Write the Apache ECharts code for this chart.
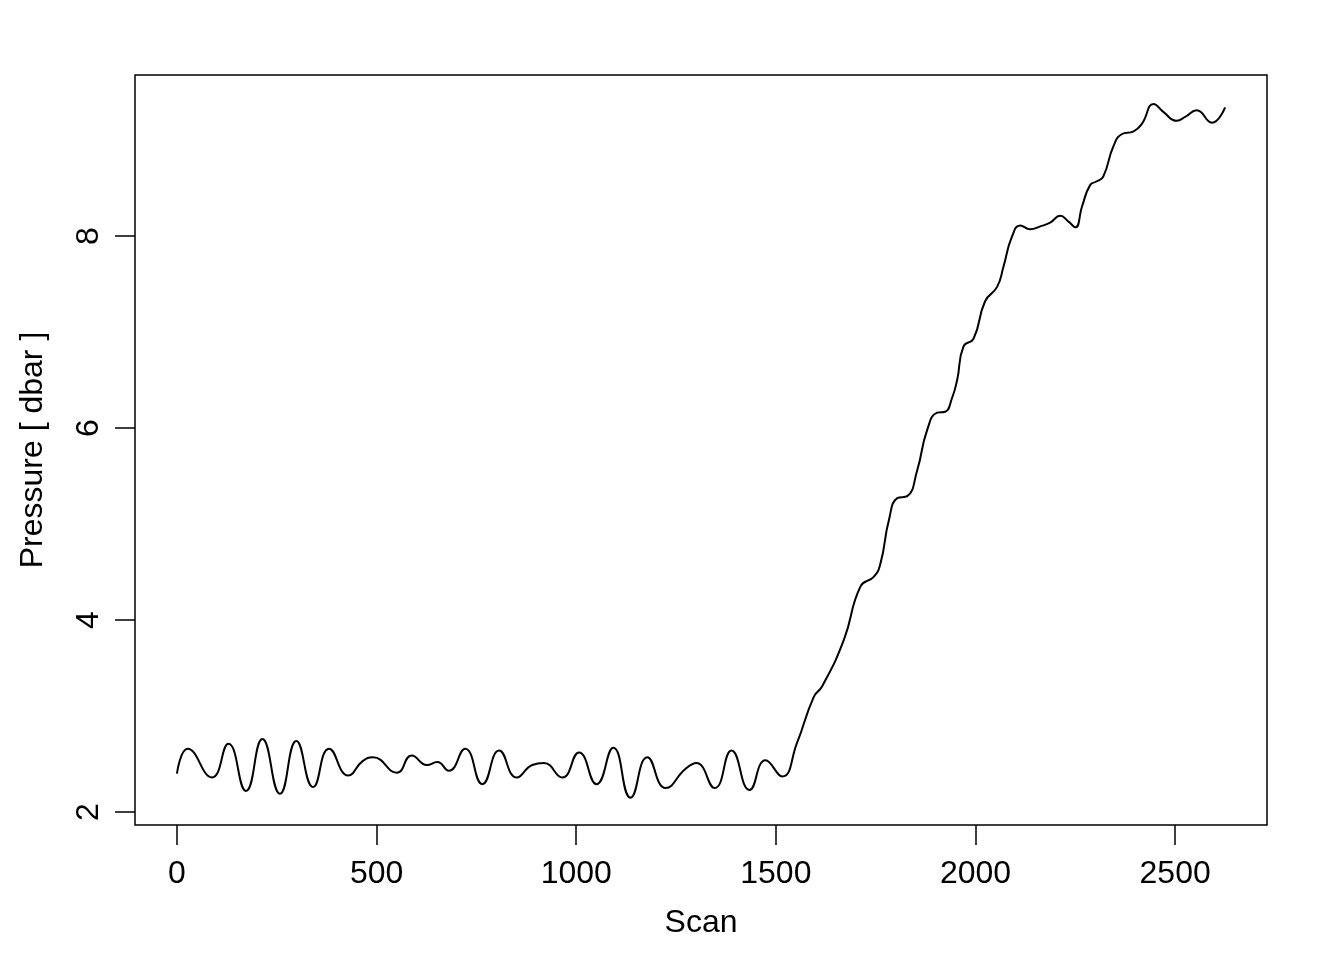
<!DOCTYPE html>
<html>
<head>
<meta charset="utf-8">
<script src="https://cdn.jsdelivr.net/npm/echarts@6/dist/echarts.min.js"></script>
<style>
  html, body { margin: 0; padding: 0; background: #fff; }
  #chart { width: 1344px; height: 960px; }
</style>
</head>
<body>
<div id="chart"></div>
<script>
// scan number and pressure (peaks, troughs, bends)
var scans = [0, 27, 88, 129, 173, 214, 258, 299, 341, 381, 429, 465, 491, 551, 588, 626, 652, 681,
    722, 765, 807, 851, 890, 919, 965, 1007, 1051, 1093, 1136, 1178, 1224, 1274, 1301, 1347, 1389,
    1434, 1474, 1516, 1553, 1595, 1616, 1670, 1712, 1745, 1762, 1783, 1804, 1829, 1854, 1879, 1904,
    1924, 1941, 1954, 1970, 1995, 2024, 2054, 2070, 2091, 2112, 2137, 2162, 2187, 2212, 2233, 2250,
    2267, 2287, 2304, 2320, 2345, 2366, 2396, 2417, 2446, 2471, 2504, 2525, 2554, 2592, 2625];
var pressure = [2.40, 2.66, 2.36, 2.71, 2.22, 2.76, 2.19, 2.74, 2.26, 2.66, 2.38, 2.53, 2.57, 2.41, 2.59, 2.49, 2.52, 2.43,
    2.66, 2.29, 2.64, 2.36, 2.49, 2.51, 2.36, 2.62, 2.29, 2.67, 2.15, 2.57, 2.25, 2.45, 2.51, 2.25, 2.64,
    2.23, 2.54, 2.37, 2.72, 3.20, 3.31, 3.79, 4.35, 4.45, 4.59, 5.04, 5.27, 5.29, 5.56, 5.98, 6.16,
    6.17, 6.31, 6.50, 6.85, 6.93, 7.32, 7.47, 7.68, 7.99, 8.11, 8.07, 8.10, 8.14, 8.21, 8.15, 8.09,
    8.31, 8.53, 8.57, 8.62, 8.93, 9.06, 9.09, 9.17, 9.375, 9.29, 9.20, 9.24, 9.31, 9.18, 9.34];
var xTicks = [0, 500, 1000, 1500, 2000, 2500];
var yTicks = [2, 4, 6, 8];

var chart = echarts.init(document.getElementById('chart'));
var points = scans.map(function (s, i) { return [s, pressure[i]]; });

var txt = { fontFamily: 'Liberation Sans', fontSize: 32, color: '#000' };
var plain = function (v) { return String(v); };

var option = {
    backgroundColor: '#fff',
    animation: false,
    grid: {
        left: 135, right: 77, top: 75, bottom: 135,
        show: true, borderColor: '#000', borderWidth: 1.5, backgroundColor: 'transparent'
    },
    xAxis: {
        type: 'value',
        min: -105, max: 2730,
        name: 'Scan',
        nameLocation: 'middle',
        nameGap: 82,
        nameTextStyle: txt,
        axisLine: { show: false, onZero: false },
        axisTick: { show: true, length: 20, inside: false, customValues: xTicks, lineStyle: { color: '#000', width: 1.5 } },
        axisLabel: Object.assign({ margin: 33, customValues: xTicks, formatter: plain }, txt),
        splitLine: { show: false }
    },
    yAxis: {
        type: 'value',
        min: 1.865, max: 9.677,
        name: 'Pressure [ dbar ]',
        nameLocation: 'middle',
        nameGap: 86,
        nameRotate: 90,
        nameTextStyle: txt,
        axisLine: { show: false, onZero: false },
        axisTick: { show: true, length: 20, inside: false, customValues: yTicks, lineStyle: { color: '#000', width: 1.5 } },
        axisLabel: Object.assign({ margin: 30, rotate: 90, customValues: yTicks, formatter: plain }, txt),
        splitLine: { show: false }
    },
    series: [{
        type: 'line',
        data: points,
        smooth: 0.5,
        showSymbol: false,
        lineStyle: { color: '#000', width: 2 }
    }]
};
chart.setOption(option);
</script>
</body>
</html>
